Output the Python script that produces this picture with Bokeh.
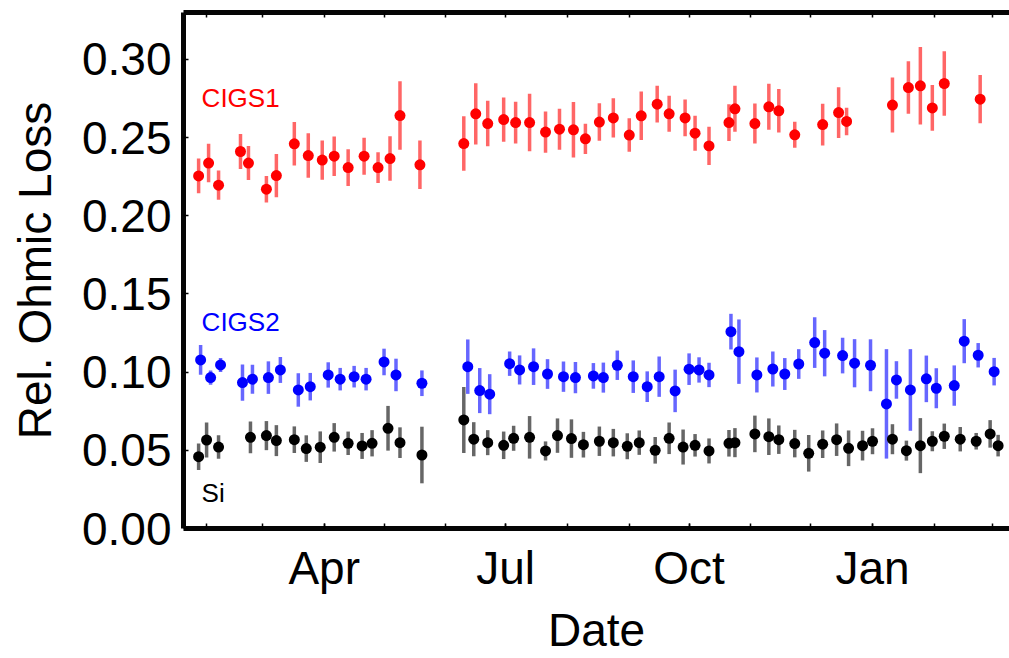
import pandas as pd
from bokeh.plotting import figure
from bokeh.models import (Range1d, FixedTicker, DatetimeTickFormatter, DatetimeAxis,
                          NumeralTickFormatter, Label, ColumnDataSource)
from bokeh.embed import file_html
from bokeh.resources import INLINE

# ---- measurement data -------------------------------------------------------
cigs1_dates = ["2015-01-28", "2015-02-02", "2015-02-07", "2015-02-18", "2015-02-22", "2015-03-03",
               "2015-03-08", "2015-03-17", "2015-03-24", "2015-03-31", "2015-04-06", "2015-04-13",
               "2015-04-21", "2015-04-28", "2015-05-04", "2015-05-09", "2015-05-19", "2015-06-10",
               "2015-06-16", "2015-06-22", "2015-06-30", "2015-07-06", "2015-07-13", "2015-07-21",
               "2015-07-28", "2015-08-04", "2015-08-10", "2015-08-17", "2015-08-24", "2015-09-01",
               "2015-09-07", "2015-09-15", "2015-09-21", "2015-09-29", "2015-10-04", "2015-10-11",
               "2015-10-21", "2015-10-24", "2015-11-03", "2015-11-10", "2015-11-15", "2015-11-23",
               "2015-12-07", "2015-12-15", "2015-12-19", "2016-01-11", "2016-01-19", "2016-01-25",
               "2016-01-31", "2016-02-06", "2016-02-24"]
cigs1_loss = [0.2255, 0.2337, 0.2196, 0.2411, 0.2337, 0.2170, 0.2257, 0.2460, 0.2385, 0.2356,
              0.2381, 0.2308, 0.2381, 0.2308, 0.2366, 0.2641, 0.2326, 0.2462, 0.2652, 0.2590,
              0.2615, 0.2596, 0.2596, 0.2535, 0.2554, 0.2550, 0.2492, 0.2599, 0.2626, 0.2516,
              0.2639, 0.2714, 0.2652, 0.2626, 0.2528, 0.2447, 0.2596, 0.2684, 0.2590, 0.2697,
              0.2671, 0.2518, 0.2583, 0.2660, 0.2603, 0.2708, 0.2820, 0.2831, 0.2690, 0.2846,
              0.2746]
cigs1_err = [0.0111, 0.0123, 0.0093, 0.0112, 0.0109, 0.0085, 0.0138, 0.0139, 0.0142, 0.0125,
             0.0126, 0.0117, 0.0118, 0.0098, 0.0142, 0.0219, 0.0155, 0.0174, 0.0196, 0.0145,
             0.0142, 0.0134, 0.0184, 0.0132, 0.0131, 0.0177, 0.0097, 0.0120, 0.0126, 0.0107,
             0.0155, 0.0118, 0.0115, 0.0118, 0.0112, 0.0122, 0.0118, 0.0147, 0.0128, 0.0147,
             0.0139, 0.0083, 0.0133, 0.0162, 0.0088, 0.0176, 0.0168, 0.0248, 0.0146, 0.0206,
             0.0155]

cigs2_dates = ["2015-01-29", "2015-02-03", "2015-02-08", "2015-02-19", "2015-02-24", "2015-03-04",
               "2015-03-10", "2015-03-19", "2015-03-25", "2015-04-03", "2015-04-09", "2015-04-16",
               "2015-04-22", "2015-05-01", "2015-05-07", "2015-05-20", "2015-06-12", "2015-06-18",
               "2015-06-23", "2015-07-03", "2015-07-08", "2015-07-15", "2015-07-22", "2015-07-30",
               "2015-08-05", "2015-08-14", "2015-08-19", "2015-08-26", "2015-09-03", "2015-09-10",
               "2015-09-16", "2015-09-24", "2015-10-01", "2015-10-06", "2015-10-11", "2015-10-22",
               "2015-10-26", "2015-11-04", "2015-11-12", "2015-11-18", "2015-11-25", "2015-12-03",
               "2015-12-08", "2015-12-17", "2015-12-23", "2015-12-31", "2016-01-08", "2016-01-13",
               "2016-01-20", "2016-01-28", "2016-02-02", "2016-02-11", "2016-02-16", "2016-02-23",
               "2016-03-02"]
cigs2_loss = [0.1078, 0.0965, 0.1046, 0.0933, 0.0955, 0.0965, 0.1014, 0.0886, 0.0907, 0.0982,
              0.0955, 0.0971, 0.0955, 0.1065, 0.0982, 0.0929, 0.1035, 0.0882, 0.0859, 0.1054,
              0.1014, 0.1035, 0.0988, 0.0971, 0.0965, 0.0976, 0.0965, 0.1044, 0.0971, 0.0907,
              0.0971, 0.0880, 0.1019, 0.1014, 0.0982, 0.1259, 0.1131, 0.0982, 0.1020, 0.0988,
              0.1052, 0.1189, 0.1121, 0.1106, 0.1057, 0.1044, 0.0797, 0.0950, 0.0886, 0.0957,
              0.0897, 0.0914, 0.1198, 0.1108, 0.1003]
cigs2_err = [0.0095, 0.0046, 0.0045, 0.0116, 0.0093, 0.0104, 0.0083, 0.0107, 0.0088, 0.0081,
             0.0072, 0.0069, 0.0072, 0.0085, 0.0104, 0.0082, 0.0174, 0.0144, 0.0128, 0.0078,
             0.0093, 0.0117, 0.0095, 0.0097, 0.0100, 0.0082, 0.0096, 0.0094, 0.0104, 0.0098,
             0.0129, 0.0136, 0.0101, 0.0081, 0.0078, 0.0114, 0.0206, 0.0112, 0.0112, 0.0102,
             0.0095, 0.0162, 0.0148, 0.0114, 0.0154, 0.0166, 0.0350, 0.0120, 0.0261, 0.0149,
             0.0128, 0.0129, 0.0141, 0.0078, 0.0088]

si_dates = ["2015-01-28", "2015-02-01", "2015-02-07", "2015-02-23", "2015-03-03", "2015-03-08",
            "2015-03-17", "2015-03-23", "2015-03-30", "2015-04-06", "2015-04-13", "2015-04-20",
            "2015-04-25", "2015-05-03", "2015-05-09", "2015-05-20", "2015-06-10", "2015-06-15",
            "2015-06-22", "2015-06-30", "2015-07-05", "2015-07-13", "2015-07-21", "2015-07-27",
            "2015-08-03", "2015-08-09", "2015-08-17", "2015-08-24", "2015-08-31", "2015-09-06",
            "2015-09-14", "2015-09-21", "2015-09-28", "2015-10-04", "2015-10-11", "2015-10-21",
            "2015-10-24", "2015-11-03", "2015-11-10", "2015-11-15", "2015-11-23", "2015-11-30",
            "2015-12-07", "2015-12-14", "2015-12-20", "2015-12-27", "2016-01-01", "2016-01-11",
            "2016-01-18", "2016-01-25", "2016-01-31", "2016-02-06", "2016-02-14", "2016-02-22",
            "2016-02-29", "2016-03-04"]
si_loss = [0.0459, 0.0566, 0.0521, 0.0583, 0.0594, 0.0562, 0.0568, 0.0511, 0.0520, 0.0583,
           0.0545, 0.0528, 0.0545, 0.0641, 0.0549, 0.0470, 0.0694, 0.0571, 0.0549, 0.0532,
           0.0577, 0.0583, 0.0496, 0.0594, 0.0575, 0.0536, 0.0558, 0.0549, 0.0526, 0.0549,
           0.0500, 0.0577, 0.0521, 0.0532, 0.0496, 0.0545, 0.0549, 0.0605, 0.0587, 0.0568,
           0.0543, 0.0481, 0.0539, 0.0568, 0.0513, 0.0530, 0.0558, 0.0571, 0.0498, 0.0530,
           0.0558, 0.0590, 0.0571, 0.0558, 0.0605, 0.0530]
si_err = [0.0085, 0.0112, 0.0075, 0.0101, 0.0093, 0.0099, 0.0085, 0.0085, 0.0101, 0.0091,
          0.0075, 0.0083, 0.0084, 0.0143, 0.0098, 0.0181, 0.0211, 0.0109, 0.0080, 0.0088,
          0.0080, 0.0136, 0.0061, 0.0110, 0.0123, 0.0082, 0.0094, 0.0088, 0.0083, 0.0078,
          0.0085, 0.0101, 0.0112, 0.0072, 0.0080, 0.0085, 0.0093, 0.0117, 0.0117, 0.0091,
          0.0088, 0.0117, 0.0088, 0.0104, 0.0114, 0.0095, 0.0083, 0.0096, 0.0064, 0.0176,
          0.0064, 0.0081, 0.0078, 0.0053, 0.0088, 0.0069]

y_ticks = [0.00, 0.05, 0.10, 0.15, 0.20, 0.25, 0.30]
labelled_months = ["2015-04-01", "2015-07-01", "2015-10-01", "2016-01-01"]
all_months = pd.date_range("2015-02-01", "2016-03-01", freq="MS")

FONT = "Liberation Sans"
FRAME = "#050505"


def to_ms(ts):
    return pd.Timestamp(ts).value / 1e6


p = figure(width=1009, height=658, x_axis_type="datetime",
           output_backend="svg", toolbar_location=None,
           x_range=Range1d(pd.Timestamp("2015-01-20 10:00"), pd.Timestamp("2016-03-09 17:00")),
           y_range=Range1d(0, 0.33),
           min_border_left=183, min_border_right=0,
           min_border_top=12, min_border_bottom=130)
p.outline_line_color = None
p.grid.visible = False
p.background_fill_color = "white"
p.border_fill_color = "white"

series = [
    (cigs1_dates, cigs1_loss, cigs1_err, "#ff0000"),
    (cigs2_dates, cigs2_loss, cigs2_err, "#0000ff"),
    (si_dates, si_loss, si_err, "#000000"),
]

sources = []
for dates, loss, err, color in series:
    d = pd.to_datetime(dates)
    src = ColumnDataSource(dict(
        x=d, y=loss,
        lo=[v - e for v, e in zip(loss, err)],
        hi=[v + e for v, e in zip(loss, err)],
    ))
    sources.append((src, color))

# error bars first, markers on top
for src, color in sources:
    p.segment(x0="x", y0="lo", x1="x", y1="hi", source=src,
              line_color=color, line_alpha=0.6, line_width=3.5)
for src, color in sources:
    p.scatter(x="x", y="y", source=src, size=11,
              fill_color=color, line_color=color, line_width=0)

# axes: every month ticked, quarters labelled on the bottom
month_ms = [to_ms(m) for m in all_months]
fmt = DatetimeTickFormatter(days="%b", months="%b", years="%b", hours="%b")


def style_x(ax):
    ax.axis_line_width = 5
    ax.axis_line_color = FRAME
    ax.major_tick_in = 5
    ax.major_tick_out = 0
    ax.minor_tick_in = 5
    ax.minor_tick_out = 0
    ax.major_tick_line_width = 1.5
    ax.minor_tick_line_width = 1.5


xa = p.xaxis[0]
style_x(xa)
xa.ticker = FixedTicker(ticks=[to_ms(m) for m in labelled_months], minor_ticks=month_ms)
xa.formatter = fmt
xa.major_label_text_font = FONT
xa.major_label_text_font_size = "46px"
xa.major_label_text_color = "black"
xa.major_label_standoff = 13
xa.axis_label = "Date"
xa.axis_label_text_font = FONT
xa.axis_label_text_font_size = "46px"
xa.axis_label_text_font_style = "normal"
xa.axis_label_text_color = "black"
xa.axis_label_standoff = 7

top = DatetimeAxis(ticker=FixedTicker(ticks=[], minor_ticks=month_ms), formatter=fmt)
style_x(top)
top.major_label_standoff = 0
p.add_layout(top, "above")

ya = p.yaxis[0]
ya.ticker = FixedTicker(ticks=y_ticks)
ya.formatter = NumeralTickFormatter(format="0.00")
ya.axis_line_width = 5
ya.axis_line_color = FRAME
ya.major_tick_in = 5
ya.major_tick_out = 0
ya.major_tick_line_width = 1.5
ya.minor_tick_line_color = None
ya.major_label_text_font = FONT
ya.major_label_text_font_size = "46px"
ya.major_label_text_color = "black"
ya.major_label_standoff = 12
ya.axis_label = "Rel. Ohmic Loss"
ya.axis_label_text_font = FONT
ya.axis_label_text_font_size = "46px"
ya.axis_label_text_font_style = "normal"
ya.axis_label_text_color = "black"
ya.axis_label_standoff = 18

# series names
label_x = pd.Timestamp("2015-01-29 12:00")
for text, yv, color in [("CIGS1", 0.2753, "#ff0000"),
                        ("CIGS2", 0.1319, "#0000ff"),
                        ("Si", 0.0230, "#000000")]:
    p.add_layout(Label(x=label_x, y=yv, text=text, text_color=color,
                       text_font=FONT, text_font_size="26px",
                       text_baseline="middle", text_align="left"))

open("out.html", "w").write(file_html(p, INLINE))
